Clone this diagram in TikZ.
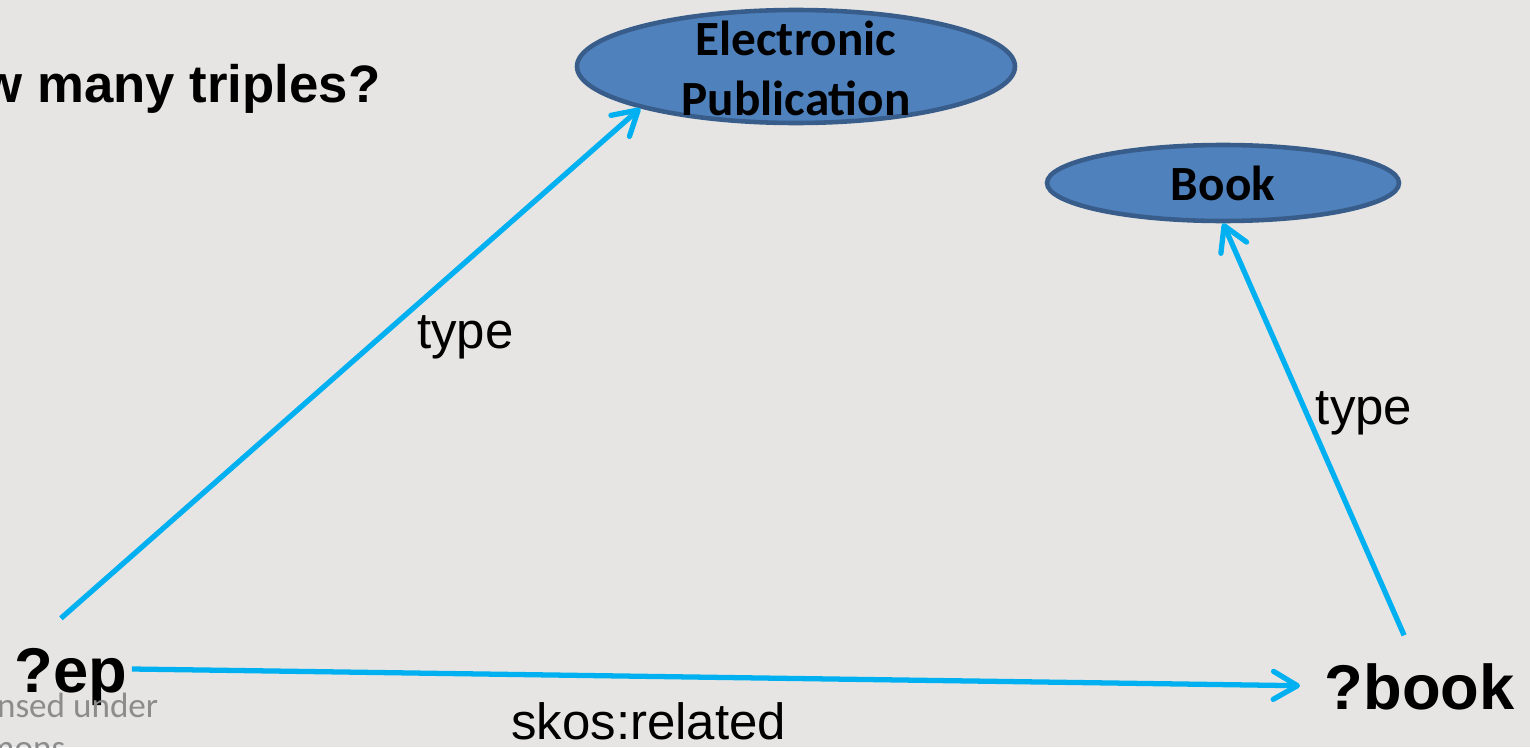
\documentclass[tikz,border=0pt]{standalone}
\usepackage{fontspec}
\setmainfont{Liberation Sans}
\newfontfamily\calibri{Carlito}
\usetikzlibrary{arrows.meta,shapes.geometric,positioning}
\definecolor{slidebg}{RGB}{230,229,227}
\definecolor{linkblue}{RGB}{0,176,240}
\definecolor{classfill}{RGB}{79,129,189}
\definecolor{classline}{RGB}{56,93,138}
\definecolor{notegray}{RGB}{140,140,140}

\begin{document}
\begin{tikzpicture}[
    classnode/.style={ellipse,draw=classline,fill=classfill,line width=1.3pt,inner sep=0pt},
    classtext/.style={font=\calibri\bfseries\fontsize{14}{17}\selectfont,align=center},
    varnode/.style={font=\bfseries\fontsize{18}{20}\selectfont,text height=0.46cm,text depth=0pt,
      inner xsep=0.04cm,inner ysep=0.27cm,anchor=base west},
    proplabel/.style={font=\fontsize{14.5}{17}\selectfont,inner sep=0pt},
    ccnote/.style={font=\calibri\fontsize{10}{12}\selectfont,text=notegray,inner sep=0pt,anchor=base east},
    linkarrow/.style={draw=linkblue,line width=1.5pt,-{Straight Barb[length=2.4mm,width=2.8mm,round]}}
  ]
      \fill[slidebg] (0,0) rectangle (15.3,7.47);
      \useasboundingbox (0,0) rectangle (15.3,7.47);

      \node[font=\bfseries\fontsize{15}{18}\selectfont,inner sep=0pt,anchor=base east] (title) at (3.81,6.44) {w many triples?};
      \node[classnode,minimum width=4.38cm,minimum height=1.13cm,
        label={[classtext,yshift=-0.02cm]center:{Electronic\\Publication}}] (epub) at (7.96,6.805) {};
      \node[classnode,minimum width=3.52cm,minimum height=0.76cm,
        label={[classtext]center:Book}] (book) at (12.23,5.64) {};
      \node[varnode] (ep) at (0.10,0.55) {?ep};
      \node[varnode] (var) at (13.20,0.38) {?book};
      \node[ccnote] (cc1) at (1.59,0.30) {nsed under};
      \node[ccnote] (cc2) at (0.66,-0.12) {mons};

      \draw[linkarrow] ([xshift=-0.10cm]ep.north) -- node[proplabel,pos=0.55,right=0.35cm] (type1) {type} (epub.195);
      \draw[linkarrow] ([xshift=-0.155cm]var.north) -- node[proplabel,pos=0.54,right=0.07cm] (type2) {type} (book.south);
      \draw[linkarrow,shorten >=0.2cm] (ep.east) -- node[proplabel,pos=0.435,below=0.24cm] (rel) {skos:related} (var.west);
    \end{tikzpicture}
\end{document}
